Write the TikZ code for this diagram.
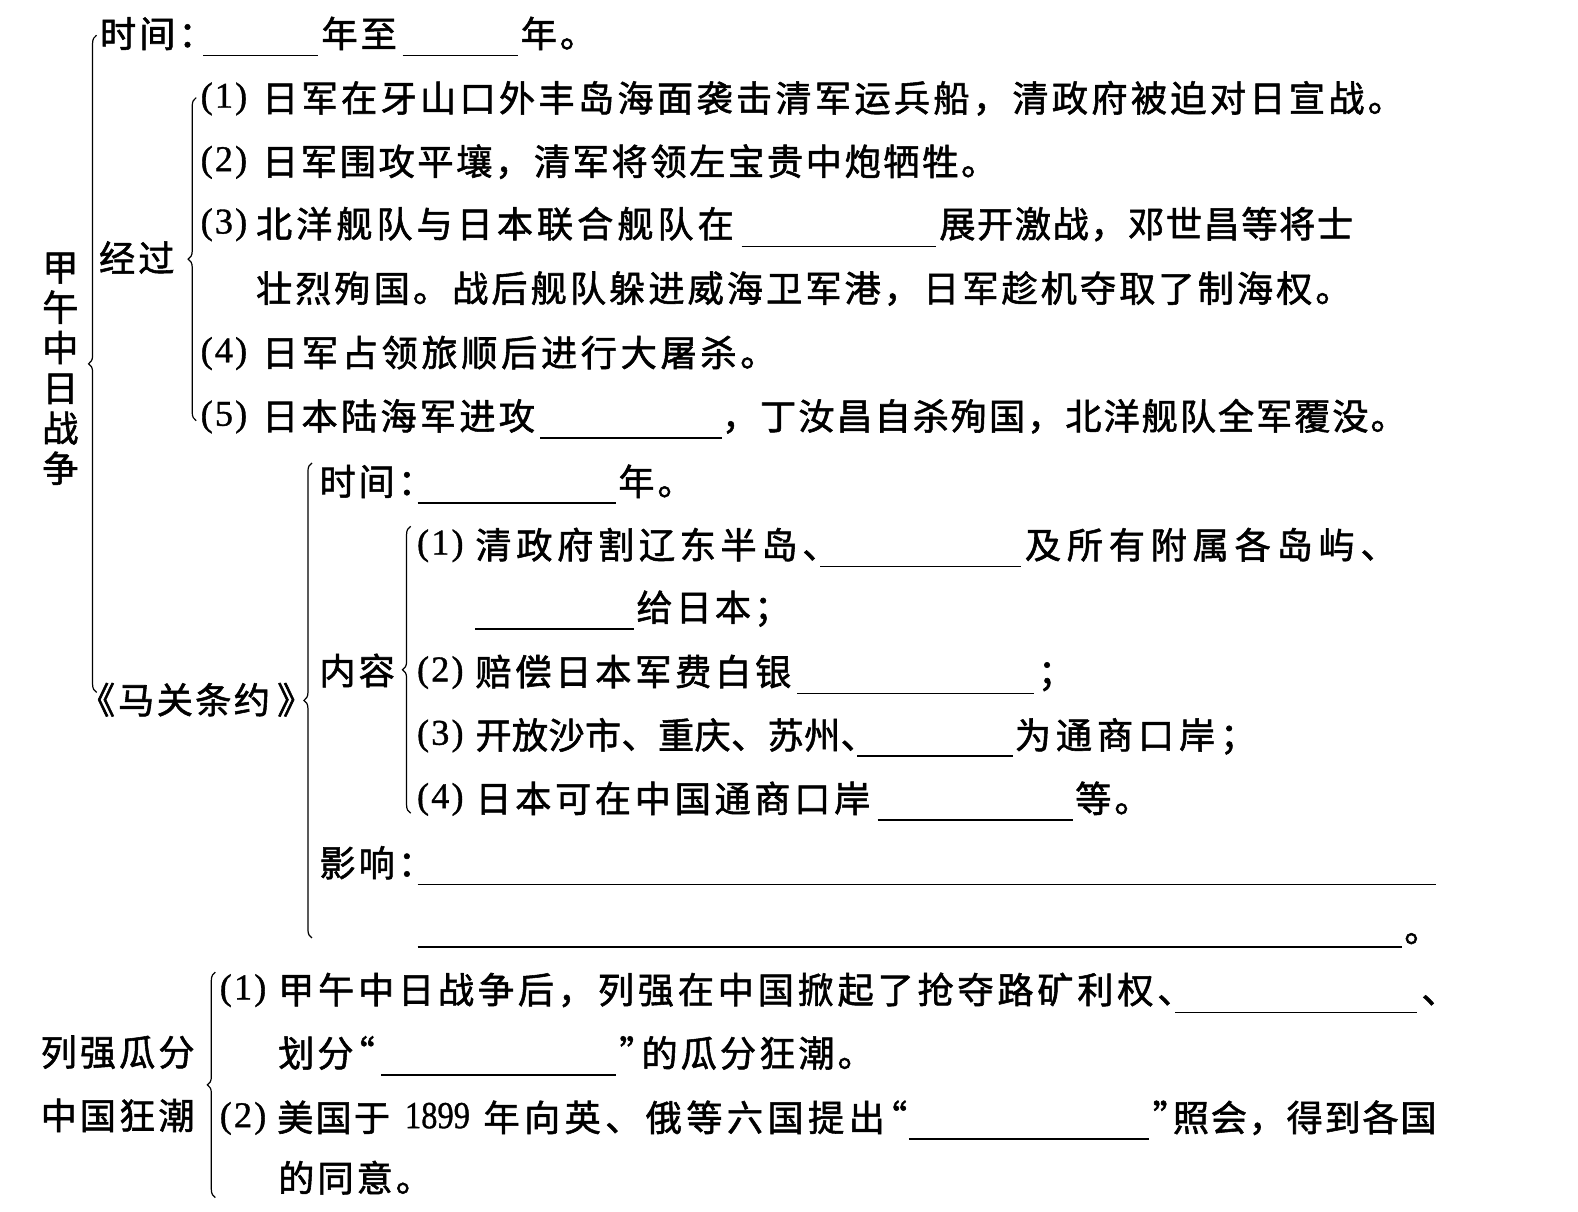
\documentclass[tikz,border=0pt]{standalone}
\usepackage{fontspec}
\setmainfont{Noto Sans CJK SC}
\newfontfamily\cjk[FakeBold=1.5]{Noto Sans CJK SC}
\newfontfamily\lat[FakeBold=1]{Liberation Serif}
\usetikzlibrary{decorations.pathreplacing}

\newcommand\zh[1]{\fontsize{18pt}{20pt}\cjk\addfontfeature{LetterSpace=#1}}
\newcommand\numf{\fontsize{18pt}{20pt}\lat\addfontfeature{LetterSpace=6}}

\tikzset{
  txt/.style={anchor=base west, inner sep=0pt, font=\zh{8.3}},
  num/.style={anchor=base west, inner sep=0pt, font=\numf},
  blank/.style={line width=0.8pt},
  brc/.style={decorate, decoration={brace, amplitude=4pt}, line width=0.6pt}
}

\begin{document}
\begin{tikzpicture}[x=0.5pt, y=-0.5pt]

\fill[white] (0,0) rectangle (1568,1204);
\useasboundingbox (0,0) rectangle (1568,1204);

% left labels
\foreach \c [count=\i from 0] in {甲,午,中,日,战,争}
  \node[txt, anchor=base] (jw\i) at (60,{279+40*\i}) {\c};
\node[txt] (jg) at (98,270) {经过};
\node[txt] (mgl) at (78,709) {《};
\node[txt, font=\zh{6.4}] (mg) at (117,709) {马关条约};
\node[txt] (mgr) at (275,709) {》};
\node[txt] (nr) at (317,680) {内容};
\node[txt] (lq1) at (40,1059) {列强瓜分};
\node[txt] (lq2) at (40,1122) {中国狂潮};

% braces
\draw[brc] (96,688) -- (96,35);
\draw[brc] (195,418) -- (195,97);
\draw[brc] (310,932) -- (310,460);
\draw[brc] (408,808) -- (408,523);
\draw[brc] (214,1190) -- (214,966);

% time
\node[txt] (sj1) at (99,47) {时间：};
\draw[blank] (202,55) -- (316,55);
\node[txt] (nz) at (319,47) {年至};
\draw[blank] (400,55) -- (515,55);
\node[txt] (n1) at (517,47) {年。};

% course
\node[num] (p1) at (199,107) {(1)};
\node[txt, font=\zh{9}] (r1) at (260,111) {日军在牙山口外丰岛海面袭击清军运兵船，清政府被迫对日宣战。};
\node[num] (p2) at (199,170) {(2)};
\node[txt, font=\zh{7.2}] (r2) at (260,174) {日军围攻平壤，清军将领左宝贵中炮牺牲。};
\node[num] (p3) at (199,232) {(3)};
\node[txt, font=\zh{10.8}] (r3a) at (254,236) {北洋舰队与日本联合舰队在};
\draw[blank] (737,245) -- (930,245);
\node[txt, font=\zh{4.2}] (r3b) at (933,236) {展开激战，邓世昌等将士};
\node[txt, font=\zh{8.3}] (r4) at (254,300) {壮烈殉国。战后舰队躲进威海卫军港，日军趁机夺取了制海权。};
\node[num] (p4) at (199,360) {(4)};
\node[txt, font=\zh{10}] (r5) at (260,364) {日军占领旅顺后进行大屠杀。};
\node[num] (p5) at (199,423) {(5)};
\node[txt, font=\zh{8.9}] (r6a) at (260,427) {日本陆海军进攻};
\draw[blank] (537,435) -- (717,435);
\node[txt, font=\zh{5.3}] (r6b) at (717,427) {，丁汝昌自杀殉国，北洋舰队全军覆没。};

% treaty
\node[txt] (sj2) at (317,492) {时间：};
\draw[blank] (415,500) -- (612,500);
\node[txt] (n2) at (614,492) {年。};

\node[num] (q1) at (414,551) {(1)};
\node[txt, font=\zh{12.8}] (r8a) at (472,555) {清政府割辽东半岛、};
\draw[blank] (815,563) -- (1015,563);
\node[txt, font=\zh{15.8}] (r8b) at (1018,555) {及所有附属各岛屿、};
\draw[blank] (472,625) -- (630,625);
\node[txt] (r9) at (632,617) {给日本；};
\node[num] (q2) at (414,677) {(2)};
\node[txt, font=\zh{10.3}] (r10a) at (472,681) {赔偿日本军费白银};
\draw[blank] (792,689) -- (1027,689);
\node[txt] (r10b) at (1031,681) {；};
\node[num] (q3) at (414,740) {(3)};
\node[txt, font=\zh{0.8}] (r11a) at (472,744) {开放沙市、重庆、苏州、};
\draw[blank] (852,751) -- (1007,751);
\node[txt, font=\zh{13.3}] (r11b) at (1008,744) {为通商口岸；};
\node[num] (q4) at (414,803) {(4)};
\node[txt, font=\zh{10}] (r12a) at (472,807) {日本可在中国通商口岸};
\draw[blank] (872,815) -- (1066,815);
\node[txt] (r12b) at (1068,807) {等。};

\node[txt] (yx) at (317,871) {影响：};
\draw[blank] (415,879) -- (1427,879);
\draw[blank] (415,941) -- (1393,941);
\node[txt] (jh) at (1395,936) {。};

% partition
\node[num] (s1) at (218,993) {(1)};
\node[txt, font=\zh{10.3}] (r15a) at (276,997) {甲午中日战争后，列强在中国掀起了抢夺路矿利权、};
\draw[blank] (1168,1006) -- (1408,1006);
\node[txt] (r15b) at (1412,997) {、};
\node[txt] (r16a) at (276,1060) {划分};
\node[txt] (r16q) at (336,1060) {“};
\draw[blank] (379,1068) -- (612,1068);
\node[txt] (r16r) at (615,1060) {”};
\node[txt] (r16b) at (637,1060) {的瓜分狂潮。};
\node[num] (s2) at (218,1120) {(2)};
\node[txt, font=\zh{6}] (r17a) at (275,1124) {美国于};
\node[num, font=\fontsize{19pt}{20pt}\lat] (yr) at (402,1121) {\scalebox{0.85}[1]{1899}};
\node[txt, font=\zh{12}] (r17b) at (480,1124) {年向英、俄等六国提出};
\node[txt] (r17q) at (865,1124) {“};
\draw[blank] (903,1132) -- (1142,1132);
\node[txt] (r17r) at (1145,1124) {”};
\node[txt, font=\zh{4.7}] (r17d) at (1165,1124) {照会，得到各国};
\node[txt] (r18) at (276,1184) {的同意。};

\end{tikzpicture}
\end{document}
